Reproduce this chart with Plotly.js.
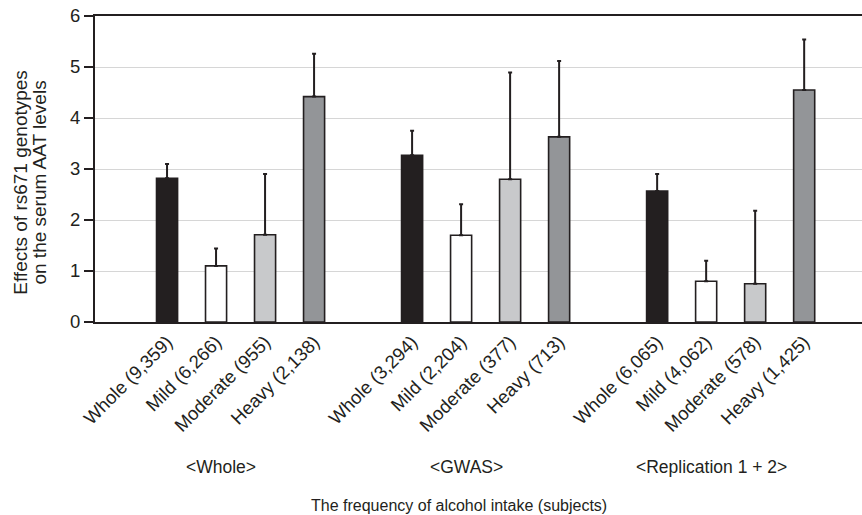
<!DOCTYPE html>
<html>
<head>
<meta charset="utf-8">
<script src="https://cdn.plot.ly/plotly-3.0.1.min.js"></script>
<style>
  html, body { margin: 0; padding: 0; background: #fff; }
  #chart { width: 862px; height: 515px; }
</style>
</head>
<body>
<div id="chart"></div>
<script>
/* rs671 genotype effects on serum AAT, by alcohol intake */

const groups   = ['<Whole>', '<GWAS>', '<Replication 1 + 2>'];
const intake   = ['Whole', 'Mild', 'Moderate', 'Heavy'];
const subjects = [
  [9359, 6266, 955, 2138],
  [3294, 2204, 377, 713],
  [6065, 4062, 578, 1425],
];
const effect = [
  [2.82, 1.10, 1.71, 4.42],
  [3.27, 1.70, 2.80, 3.63],
  [2.57, 0.80, 0.75, 4.55],
];
const errUp = [
  [0.28, 0.34, 1.19, 0.84],
  [0.48, 0.61, 2.09, 1.49],
  [0.33, 0.40, 1.43, 0.99],
];
const intakeColors = ['#231f20', '#ffffff', '#c8c9cb', '#939598'];
const yTitleLines  = ['Effects of rs671 genotypes', 'on the serum AAT levels'];

const INK  = '#231f20';
const FONT = 'Liberation Sans, Arial, Helvetica, sans-serif';

// ---- flatten groups into one category axis, with a blank slot between groups ----
const cats = [], ys = [], errs = [], colors = [];
groups.forEach((g, gi) => {
  intake.forEach((lvl, li) => {
    cats.push(`${lvl} (${subjects[gi][li].toLocaleString('en-US')})`);
    ys.push(effect[gi][li]);
    errs.push(errUp[gi][li]);
    colors.push(intakeColors[li]);
  });
  if (gi < groups.length - 1) {
    cats.push(' '.repeat(gi + 1));
    ys.push(null);
    errs.push(null);
    colors.push('#ffffff');
  }
});

const trace = {
  type: 'bar',
  x: cats,
  y: ys,
  marker: { color: colors, line: { color: INK, width: 1.6 } },
  error_y: {
    type: 'data',
    symmetric: false,
    array: errs,
    arrayminus: errs.map(() => 0),
    color: INK,
    thickness: 2,
    width: 2,
  },
  hoverinfo: 'x+y',
};

// group captions sit under the rotated tick labels
const groupNotes = groups.map((g, gi) => ({
  text: g,
  xref: 'x', yref: 'paper',
  x: gi * 5 + 1.1, y: -0.474,
  xanchor: 'center', yanchor: 'middle',
  showarrow: false,
  font: { size: 17.5, color: INK, family: FONT },
}));

// y title as two tight lines (the original has small leading)
const yTitleNotes = yTitleLines.map((t, i) => ({
  text: t,
  xref: 'paper', yref: 'paper',
  x: -0.097 + i * 0.0245, y: 0.457,
  xanchor: 'center', yanchor: 'middle',
  textangle: -90,
  showarrow: false,
  font: { size: 19, color: INK, family: FONT },
}));

const layout = {
  width: 862,
  height: 515,
  margin: { l: 95, r: 0, t: 16, b: 193 },
  paper_bgcolor: '#ffffff',
  plot_bgcolor:  '#ffffff',
  showlegend: false,
  bargap: 0.57,
  font: { family: FONT, color: INK, size: 16 },
  xaxis: {
    type: 'category',
    categoryorder: 'array',
    categoryarray: cats,
    range: [-1.47, 14.18],
    showline: true,
    mirror: true,
    linecolor: INK,
    linewidth: 2,
    ticks: '',
    tickangle: -45,
    tickfont: { size: 18.5, color: INK },
    showgrid: false,
    fixedrange: true,
  },
  yaxis: {
    range: [0, 6],
    dtick: 1,
    showline: true,
    linecolor: INK,
    linewidth: 2,
    ticks: 'outside',
    ticklen: 9,
    tickwidth: 1.5,
    tickcolor: INK,
    tickfont: { size: 18.5, color: INK },
    showgrid: true,
    gridcolor: '#d6d6d6',
    gridwidth: 1,
    zeroline: false,
    fixedrange: true,
  },
  annotations: [
    ...groupNotes,
    ...yTitleNotes,
    {
      text: 'The frequency of alcohol intake (subjects)',
      xref: 'paper', yref: 'paper',
      x: 0.474, y: -0.601,
      xanchor: 'center', yanchor: 'middle',
      showarrow: false,
      font: { size: 16, color: INK, family: FONT },
    },
  ],
};

Plotly.newPlot('chart', [trace], layout, { staticPlot: true, displayModeBar: false });
</script>
</body>
</html>
